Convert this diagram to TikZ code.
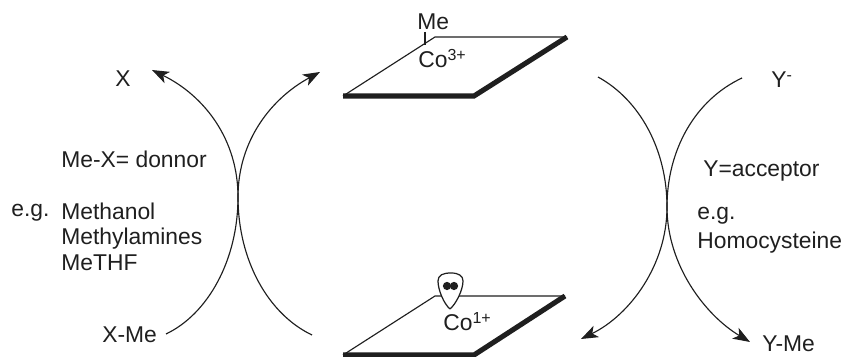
\documentclass[tikz,border=0pt]{standalone}
\usepackage{fontspec}
\setmainfont{Liberation Sans}
\usetikzlibrary{arrows.meta,positioning}

\begin{document}
\begin{tikzpicture}[
	x=0.02cm, y=-0.02cm,
	font=\fontsize{13}{15}\selectfont,
	% Node styles
	txt/.style={inner sep=0pt, anchor=base west, text=black!88},
	orbital/.style={draw=black!88, fill=white, line width=0.7pt},
	lonepair/.style={circle, fill=black!88, inner sep=0pt, minimum size=0.165cm},
	% Line styles
	arr/.style={-{Stealth[length=0.34cm, width=0.25cm, inset=0.09cm]}, line width=0.65pt, black!88},
	thinedge/.style={line width=0.65pt, black!88},
	thickedge/.style={line width=2.9pt, black!88, line cap=butt}
	]
	\useasboundingbox (0,0) rectangle (846,357);

	%% --- TOP PLANE: Co(III) ---
	\coordinate (tbl) at (343,96);
	\coordinate (tbr) at (474,96);
	\coordinate (ttr) at (567,37);
	\coordinate (ttl) at (435,37);
	\draw[thinedge] (tbl) -- (ttl) -- (ttr);
	\draw[thickedge, line join=miter] (tbl) -- (tbr) -- (ttr);
	\node[txt] (me) at (417,30) {Me};
	\node[txt] (co3) at (418,68) {Co\textsuperscript{3+}};
	\coordinate (bondtop) at (425,32);
	\coordinate (bondbot) at (425,45);
	\draw[thinedge] (bondtop) -- (bondbot);

	%% --- BOTTOM PLANE: Co(I) ---
	\coordinate (bbl) at (343,355);
	\coordinate (bbr) at (474,355);
	\coordinate (btr) at (565,296);
	\coordinate (btl) at (435,296);
	\draw[thinedge] (bbl) -- (btl) -- (btr);
	\draw[thickedge, line join=miter] (bbl) -- (bbr) -- (btr);
	\node[txt] (co1) at (443,331) {Co\textsuperscript{1+}};

	% Orbital with its two electrons
	\draw[orbital] (450,309) .. controls (444,304) and (438,290) .. (438,281)
		.. controls (438,275) and (443,273) .. (451,273)
		.. controls (459,273) and (463,276) .. (463,281)
		.. controls (463,290) and (456,304) .. (450,309);
	\node[lonepair] (e1) at (447,286) {};
	\node[lonepair] (e2) at (454,286) {};

	%% --- LEFT: DONOR SIDE ---
	\node[txt] (x) at (115,87) {X};
	\node[txt] (xme) at (102,343) {X-Me};
	\node[txt] (donnor) at (61,168) {Me-X= donnor};
	\node[txt] (eg1) at (11,217) {e.g.};
	\node[txt] (methanol) at (61,220) {Methanol};
	\node[txt] (methylamines) at (61,245) {Methylamines};
	\node[txt] (methf) at (61,271) {MeTHF};

	\coordinate (la) at (166,334);
	\coordinate (lb) at (312,335);
	\coordinate (lc) at (320,72);
	\coordinate (ld) at (152,70);
	\coordinate (lm) at (238,197);
	\draw[arr] (la) .. controls (208,314) and (238,260) .. (lm)
		.. controls (238,140) and (272,98) .. (lc);
	\draw[arr] (lb) .. controls (268,314) and (238,260) .. (lm)
		.. controls (238,140) and (205,96) .. (ld);

	%% --- RIGHT: ACCEPTOR SIDE ---
	\node[txt] (y) at (771,88) {Y\textsuperscript{-}};
	\node[txt] (yme) at (762,352) {Y-Me};
	\node[txt] (acceptor) at (703,177) {Y=acceptor};
	\node[txt] (eg2) at (697,220) {e.g.};
	\node[txt] (homocysteine) at (697,249) {Homocysteine};

	\coordinate (ra) at (598,77);
	\coordinate (rb) at (742,78);
	\coordinate (rc) at (750,342);
	\coordinate (rd) at (581,339);
	\coordinate (rm) at (667,207);
	\draw[arr] (ra) .. controls (640,100) and (667,150) .. (rm)
		.. controls (667,265) and (705,315) .. (rc);
	\draw[arr] (rb) .. controls (695,100) and (667,150) .. (rm)
		.. controls (667,265) and (630,315) .. (rd);
\end{tikzpicture}
\end{document}
